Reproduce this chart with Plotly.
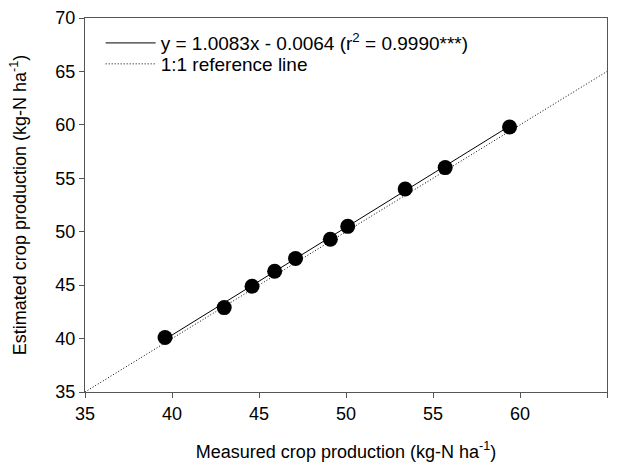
import plotly.graph_objects as go

measured = [39.6, 43.0, 44.6, 45.9, 47.1, 49.1, 50.1, 53.4, 55.7, 59.4]
estimated = [40.1, 42.9, 44.9, 46.3, 47.5, 49.3, 50.5, 54.0, 56.0, 59.8]
slope = 1.0083
intercept = -0.0064
ref_range = [35, 65]
tick_vals = [35, 40, 45, 50, 55, 60, 65, 70]

fit_x = [min(measured), max(measured)]
fit_y = [slope * v + intercept for v in fit_x]

FONT = "Arial, Liberation Sans, sans-serif"

fig = go.Figure()
fig.add_trace(go.Scatter(
    x=fit_x, y=fit_y, mode="lines",
    line=dict(color="black", width=1),
    name="y = 1.0083x - 0.0064 (r<sup>2</sup> = 0.9990***)",
    legend="legend",
))
fig.add_trace(go.Scatter(
    x=ref_range, y=ref_range, mode="lines",
    line=dict(color="black", width=1, dash="1px,2px"),
    name="1:1 reference line",
    legend="legend2",
))
fig.add_trace(go.Scatter(
    x=measured, y=estimated, mode="markers",
    marker=dict(color="black", size=15),
    showlegend=False,
))

axis_common = dict(
    showgrid=False, zeroline=False, automargin=False,
    showline=True, linecolor="#555555", linewidth=1, mirror=True,
    ticks="outside", ticklen=5, tickcolor="#555555", tickwidth=1,
    tickfont=dict(size=18, color="black", family=FONT),
    tickvals=tick_vals,
)

leg_common = dict(
    xanchor="left", yanchor="middle",
    bgcolor="rgba(0,0,0,0)", borderwidth=0,
    font=dict(size=19, family=FONT, color="black"),
    itemwidth=50,
)

fig.update_layout(
    width=617, height=471,
    margin=dict(l=85, r=10, t=18, b=79),
    paper_bgcolor="white", plot_bgcolor="white",
    font=dict(family=FONT, color="black"),
    showlegend=True,
    legend=dict(x=0.03, y=0.933, **leg_common),
    legend2=dict(x=0.03, y=0.877, **leg_common),
    xaxis=dict(
        range=[35, 65],
        title=dict(text="Measured crop production (kg-N ha<sup>-1</sup>)",
                   font=dict(size=18, family=FONT, color="black"), standoff=22),
        **axis_common,
    ),
    yaxis=dict(
        range=[35, 70],
        title=dict(text="Estimated crop production (kg-N ha<sup>-1</sup>)",
                   font=dict(size=18, family=FONT, color="black"), standoff=24),
        **axis_common,
    ),
)

fig.write_html("out.html")
